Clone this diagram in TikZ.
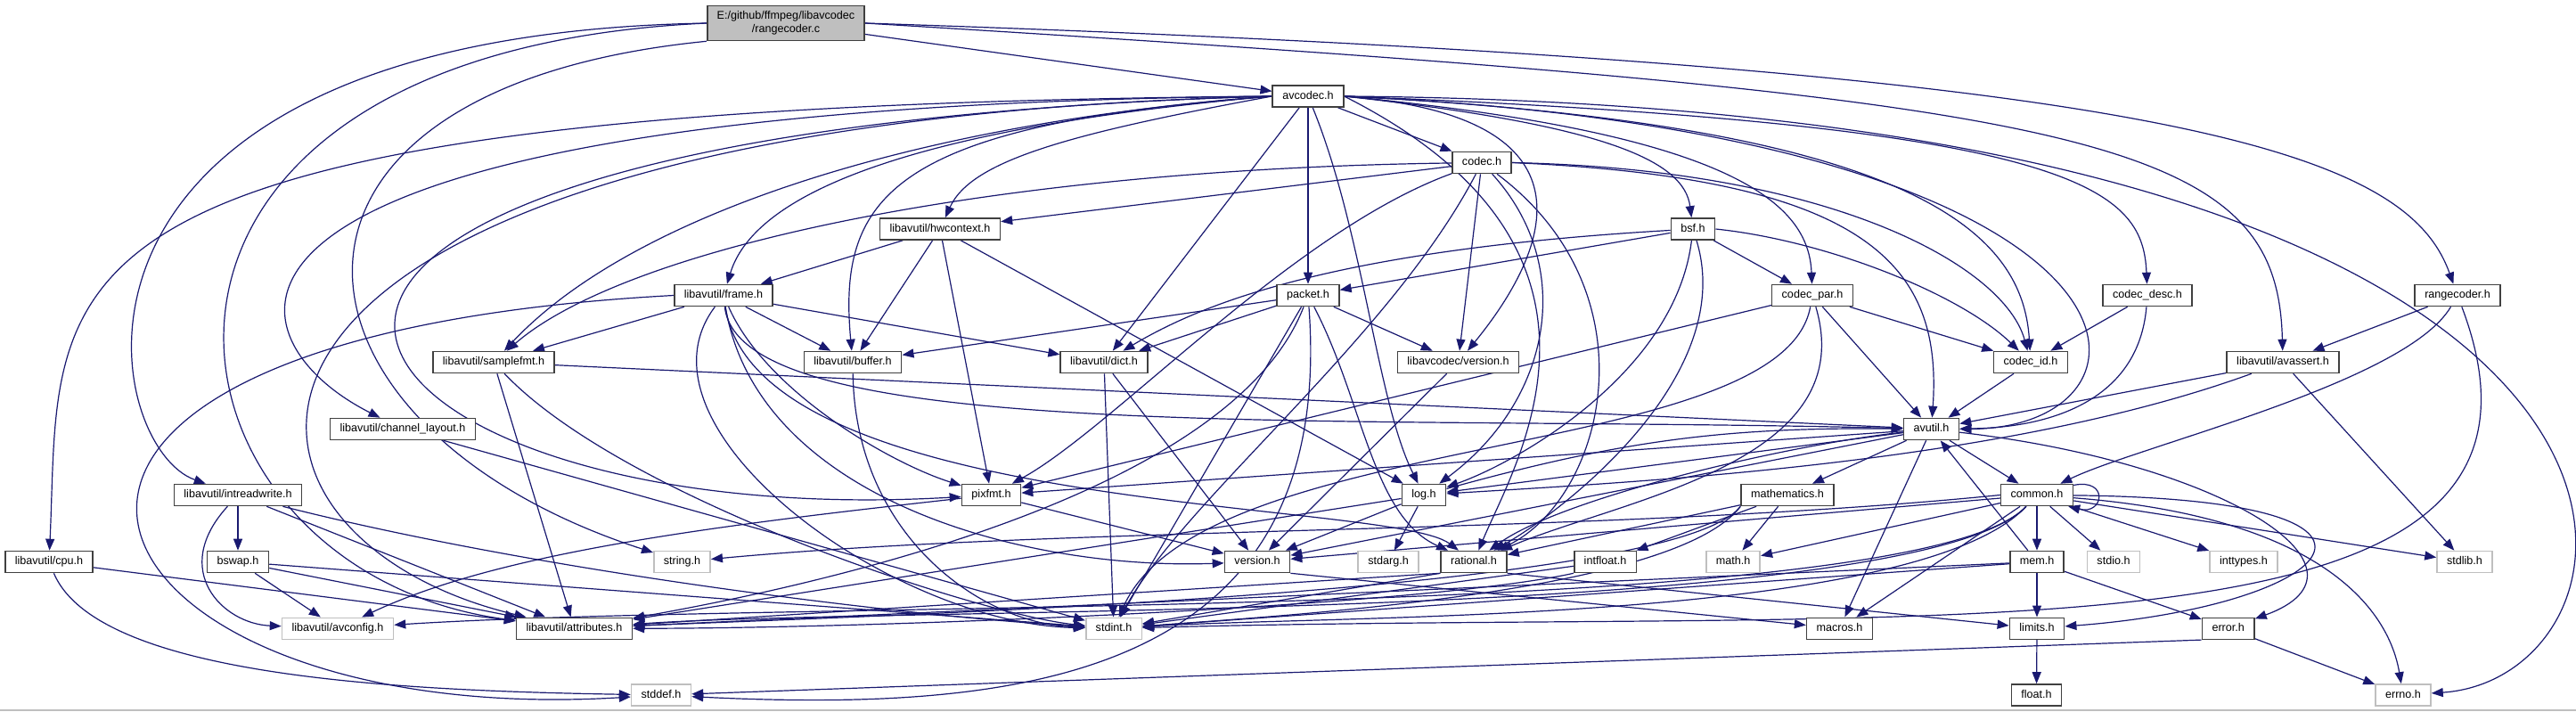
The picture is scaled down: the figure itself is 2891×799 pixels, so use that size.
\documentclass[tikz,border=0pt]{standalone}
\usepackage{fontspec}
\setmainfont{Liberation Sans}
\usepackage{tikz}
\usetikzlibrary{arrows.meta,backgrounds}
\definecolor{Navy}{HTML}{191970}
\definecolor{Frame}{HTML}{404040}
\definecolor{Faded}{HTML}{BFBFBF}
\definecolor{RootGrey}{HTML}{BFBFBF}

\begin{document}
\begin{tikzpicture}[x=1pt,y=-1pt,
  box/.style={fill=white,line width=1.6pt,inner xsep=11pt,inner ysep=0pt,font=\fontsize{12.6}{15}\selectfont},
  hfile/.style={box,draw=Frame,minimum height=24pt,text height=9.2pt,text depth=2.6pt},
  sysfile/.style={hfile,draw=Faded},
  mainfile/.style={box,draw=Frame,fill=RootGrey,minimum height=39pt,align=center},
  arrow/.style={-{Triangle[length=13pt,width=10pt]},line width=1.2pt,draw=Navy}
]
\useasboundingbox (0,0) rectangle (2891,799);

% headers, row by row
\node[mainfile] (root) at (882,26) {E:/github/ffmpeg/libavcodec\\/rangecoder.c};
\node[hfile] (avcodec) at (1468,108) {avcodec.h};
\node[hfile] (codec) at (1663,182.5) {codec.h};
\node[hfile] (hwcontext) at (1055,257) {libavutil/hwcontext.h};
\node[hfile] (bsf) at (1900,257) {bsf.h};
\node[hfile] (frame) at (812,331.5) {libavutil/frame.h};
\node[hfile] (packet) at (1468,331.5) {packet.h};
\node[hfile] (codecpar) at (2034,331.5) {codec\_par.h};
\node[hfile] (codecdesc) at (2410,331.5) {codec\_desc.h};
\node[hfile] (rangecoder) at (2758,331.5) {rangecoder.h};
\node[hfile] (samplefmt) at (554,406.5) {libavutil/samplefmt.h};
\node[hfile] (buffer) at (957,406.5) {libavutil/buffer.h};
\node[hfile] (dict) at (1239,406.5) {libavutil/dict.h};
\node[hfile] (lavcversion) at (1636.5,406.5) {libavcodec/version.h};
\node[hfile] (codecid) at (2279,406.5) {codec\_id.h};
\node[hfile] (avassert) at (2562,406.5) {libavutil/avassert.h};
\node[hfile] (chlayout) at (452,481.5) {libavutil/channel\_layout.h};
\node[hfile] (avutil) at (2167.5,481.5) {avutil.h};
\node[hfile] (intreadwrite) at (267,555.5) {libavutil/intreadwrite.h};
\node[hfile] (pixfmt) at (1112.5,555.5) {pixfmt.h};
\node[hfile] (log) at (1598,555.5) {log.h};
\node[hfile] (mathematics) at (2006,555.5) {mathematics.h};
\node[hfile] (common) at (2286,555.5) {common.h};
\node[hfile] (cpu) at (55,630.5) {libavutil/cpu.h};
\node[hfile] (bswap) at (267,630.5) {bswap.h};
\node[sysfile] (stringh) at (765.5,630.5) {string.h};
\node[hfile] (version) at (1411,630.5) {version.h};
\node[sysfile] (stdarg) at (1558,630.5) {stdarg.h};
\node[hfile] (rational) at (1654,630.5) {rational.h};
\node[hfile] (intfloat) at (1801.5,630.5) {intfloat.h};
\node[sysfile] (mathh) at (1945,630.5) {math.h};
\node[hfile] (mem) at (2286,630.5) {mem.h};
\node[sysfile] (stdio) at (2372,630.5) {stdio.h};
\node[sysfile] (inttypes) at (2518,630.5) {inttypes.h};
\node[sysfile] (stdlib) at (2766,630.5) {stdlib.h};
\node[sysfile] (avconfig) at (379,705.3) {libavutil/avconfig.h};
\node[hfile] (attributes) at (644.5,705.3) {libavutil/attributes.h};
\node[sysfile] (stdint) at (1250,705.3) {stdint.h};
\node[hfile] (macros) at (2064.5,705.3) {macros.h};
\node[hfile] (limits) at (2286,705.3) {limits.h};
\node[hfile] (error) at (2500.7,705.3) {error.h};
\node[sysfile] (stddef) at (742,780) {stddef.h};
\node[hfile] (floath) at (2285.5,780) {float.h};
\node[sysfile] (errno) at (2697,780) {errno.h};

\draw[Faded,line width=2pt] (0,797) -- (2891,797);

\begin{scope}[on background layer]
\fill[white] (0,0) rectangle (2891,799);
% rangecoder.c
\draw[arrow] (root) -- (avcodec);
\draw[arrow] (root.east) .. controls (2450,75) and (2700,170) .. (rangecoder);
\draw[arrow] (root.east) .. controls (2350,110) and (2556,150) .. (avassert);
\draw[arrow] (root.west) .. controls (20,40) and (110,500) .. (intreadwrite);
\draw[arrow] (root.west) .. controls (60,60) and (160,640) .. (attributes);
\draw[arrow] (root.south west) .. controls (250,100) and (300,480) .. (stringh);
% avcodec.h
\foreach \t in {codec,packet,dict} {
  \draw[arrow] (avcodec) -- (\t);
}
\draw[arrow] (avcodec.east) .. controls (1800,140) and (1890,180) .. (bsf);
\draw[arrow] (avcodec.east) .. controls (1950,150) and (2030,230) .. (codecpar);
\draw[arrow] (avcodec.east) .. controls (2150,140) and (2270,260) .. (codecid);
\draw[arrow] (avcodec.east) .. controls (2330,140) and (2405,210) .. (codecdesc);
\draw[arrow] (avcodec.east) .. controls (2450,150) and (2450,480) .. (avutil.east);
\draw[arrow] (avcodec.east) .. controls (3100,120) and (3000,760) .. (errno);
\draw[arrow] (avcodec.east) .. controls (1800,130) and (1740,280) .. (lavcversion);
\draw[arrow] (avcodec) .. controls (1530,260) and (1545,450) .. (log);
\draw[arrow] (avcodec.east) .. controls (1850,280) and (1700,520) .. (rational);
\draw[arrow] (avcodec.west) .. controls (1200,150) and (1090,180) .. (hwcontext);
\draw[arrow] (avcodec.west) .. controls (1000,140) and (940,220) .. (buffer);
\draw[arrow] (avcodec.west) .. controls (950,150) and (840,240) .. (frame);
\draw[arrow] (avcodec.west) .. controls (1000,140) and (700,250) .. (samplefmt);
\draw[arrow] (avcodec.west) .. controls (150,120) and (250,380) .. (chlayout);
\draw[arrow] (avcodec.west) .. controls (0,120) and (70,300) .. (cpu);
\draw[arrow] (avcodec.west) .. controls (150,140) and (200,600) .. (attributes);
\draw[arrow] (avcodec.west) .. controls (0,150) and (350,600) .. (pixfmt);
% codec.h, bsf.h, codec_par.h
\draw[arrow] (codec) -- (hwcontext);
\draw[arrow] (codec) -- (lavcversion);
\draw[arrow] (codec) .. controls (1100,190) and (700,280) .. (samplefmt);
\draw[arrow] (codec) .. controls (1450,260) and (1250,480) .. (pixfmt);
\draw[arrow] (codec) .. controls (1560,380) and (1330,560) .. (stdint);
\draw[arrow] (codec) .. controls (1770,300) and (1740,450) .. (log);
\draw[arrow] (codec) .. controls (1860,330) and (1800,560) .. (rational);
\draw[arrow] (codec.east) .. controls (2100,200) and (2180,300) .. (avutil);
\draw[arrow] (codec.east) .. controls (2060,190) and (2250,300) .. (codecid);
\draw[arrow] (bsf) -- (packet);
\draw[arrow] (bsf) -- (codecpar);
\draw[arrow] (bsf.east) .. controls (2050,270) and (2200,330) .. (codecid);
\draw[arrow] (bsf) .. controls (1500,280) and (1350,340) .. (dict);
\draw[arrow] (bsf) .. controls (1880,420) and (1700,520) .. (log);
\draw[arrow] (bsf) .. controls (1950,420) and (1760,570) .. (rational);
\foreach \t in {pixfmt,codecid,avutil} {
  \draw[arrow] (codecpar) -- (\t);
}
\draw[arrow] (codecpar) .. controls (2000,520) and (1350,480) .. (stdint);
\draw[arrow] (codecpar) .. controls (2090,520) and (1820,560) .. (rational);
\draw[arrow] (codecdesc) -- (codecid);
\draw[arrow] (codecdesc) .. controls (2400,450) and (2300,480) .. (avutil);
\draw[arrow] (codecid) -- (avutil);
% rangecoder.h, avassert.h
\draw[arrow] (rangecoder) -- (avassert);
\draw[arrow] (rangecoder) .. controls (2700,430) and (2400,500) .. (common);
\draw[arrow] (rangecoder) .. controls (2920,760) and (2200,680) .. (stdint);
\draw[arrow] (avassert) -- (avutil);
\draw[arrow] (avassert) -- (stdlib);
\draw[arrow] (avassert) .. controls (2250,520) and (1850,540) .. (log);
% hwcontext.h, frame.h, buffer.h, dict.h, packet.h
\foreach \t in {frame,buffer,pixfmt,log} {
  \draw[arrow] (hwcontext) -- (\t);
}
\foreach \t in {buffer,dict,samplefmt} {
  \draw[arrow] (frame) -- (\t);
}
\draw[arrow] (frame) .. controls (830,500) and (1500,465) .. (avutil);
\draw[arrow] (frame.west) .. controls (-150,380) and (80,820) .. (stddef);
\draw[arrow] (frame) .. controls (860,440) and (1000,520) .. (pixfmt);
\draw[arrow] (frame) .. controls (850,580) and (1560,560) .. (rational);
\draw[arrow] (frame) .. controls (850,560) and (1150,640) .. (version);
\draw[arrow] (frame) .. controls (700,480) and (1000,700) .. (stdint);
\draw[arrow] (buffer) .. controls (960,600) and (1100,700) .. (stdint);
\foreach \t in {stdint,version} {
  \draw[arrow] (dict) -- (\t);
}
\foreach \t in {buffer,dict,lavcversion,stdint} {
  \draw[arrow] (packet) -- (\t);
}
\draw[arrow] (packet) .. controls (1530,450) and (1540,580) .. (rational);
\draw[arrow] (packet) .. controls (1500,760) and (1150,800) .. (stddef);
\draw[arrow] (packet) .. controls (1380,560) and (900,660) .. (attributes);
\draw[arrow] (lavcversion) -- (version);
% left side
\draw[arrow] (samplefmt) -- (avutil);
\draw[arrow] (samplefmt) -- (attributes);
\draw[arrow] (samplefmt) .. controls (700,560) and (1100,690) .. (stdint);
\draw[arrow] (chlayout) -- (stdint);
\draw[arrow] (cpu) -- (attributes);
\draw[arrow] (cpu) .. controls (110,760) and (450,775) .. (stddef);
\draw[arrow] (intreadwrite) -- (bswap);
\draw[arrow] (intreadwrite) .. controls (190,640) and (250,700) .. (avconfig);
\draw[arrow] (intreadwrite) -- (attributes);
\draw[arrow] (intreadwrite) .. controls (600,640) and (1000,690) .. (stdint);
\foreach \t in {avconfig,attributes,stdint} {
  \draw[arrow] (bswap) -- (\t);
}
% avutil.h and below
\foreach \t in {common,version,macros,mathematics,log,pixfmt} {
  \draw[arrow] (avutil) -- (\t);
}
\draw[arrow] (avutil) .. controls (2000,500) and (1750,560) .. (rational);
\draw[arrow] (avutil) .. controls (2500,520) and (2680,640) .. (error);
\draw[arrow] (log) to[bend left=8] (avutil);
\foreach \t in {stdarg,attributes,version} {
  \draw[arrow] (log) -- (\t);
}
\draw[arrow] (pixfmt) -- (version);
\draw[arrow] (pixfmt) .. controls (800,590) and (560,620) .. (avconfig);
\draw[arrow] (rational.south west) -- (stdint);
\draw[arrow] (rational.south west) -- (attributes);
\draw[arrow] (rational.south east) -- (limits);
\foreach \t in {mathh,intfloat,rational} {
  \draw[arrow] (mathematics) -- (\t);
}
\draw[arrow] (mathematics.south west) .. controls (1880,665) and (1000,690) .. (attributes);
\draw[arrow] (mathematics.south west) .. controls (1880,665) and (1450,690) .. (stdint);
\draw[arrow] (intfloat) -- (stdint);
\draw[arrow] (intfloat.south west) .. controls (1600,680) and (1000,705) .. (attributes);
% common.h
\foreach \t in {mem,stdio,inttypes,stdlib,mathh,macros,version} {
  \draw[arrow] (common) -- (\t);
}
\draw[arrow] (common) .. controls (2600,580) and (2680,680) .. (errno);
\draw[arrow] (common) .. controls (2750,560) and (2620,680) .. (limits);
\draw[arrow] (common.west) .. controls (1800,600) and (1200,590) .. (stringh);
\draw[arrow] (common) .. controls (2150,700) and (1000,680) .. (attributes);
\draw[arrow] (common) .. controls (2150,700) and (900,672) .. (avconfig);
\draw[arrow] (common) .. controls (2150,700) and (1500,690) .. (stdint);
\draw[arrow] (common.15) .. controls +(40,-8) and +(40,10) .. (common.-20);
% mem.h, error.h, limits.h, version.h
\foreach \t in {limits,error,avutil,attributes,stdint} {
  \draw[arrow] (mem) -- (\t);
}
\draw[arrow] (error) -- (errno);
\draw[arrow] (error.south west) -- (stddef);
\draw[arrow] (limits) -- (floath);
\draw[arrow] (version.south east) -- (macros);
\end{scope}
\end{tikzpicture}
\end{document}
